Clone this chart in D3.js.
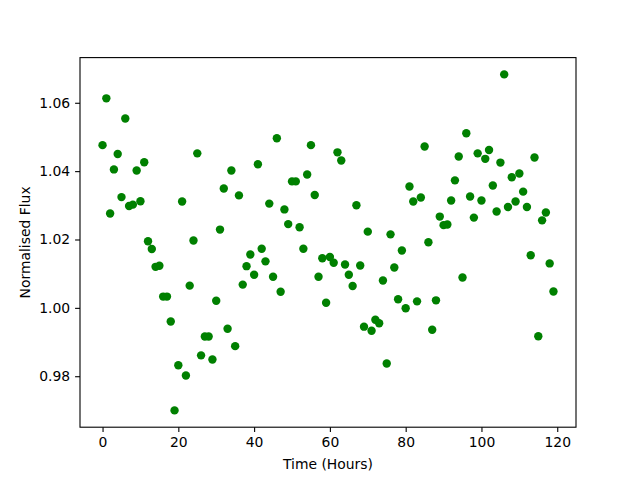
<!DOCTYPE html>
<html>
<head>
<meta charset="utf-8">
<script src="https://cdn.jsdelivr.net/npm/d3@7"></script>
<style>
  body { margin: 0; background: #fff; }
  text { font-family: "DejaVu Sans", sans-serif; fill: #000; }
</style>
</head>
<body>
<div id="chart"></div>
<script>
// hours 0..119, one reading per hour
let hours = d3.range(0, 120);

let flux = [
  1.0476, 1.0613, 1.0276, 1.0405, 1.0450, 1.0324, 1.0554, 1.0298, 1.0302, 1.0402,
  1.0312, 1.0426, 1.0195, 1.0172, 1.0120, 1.0123, 1.0033, 1.0033, 0.9960, 0.9700,
  0.9832, 1.0311, 0.9802, 1.0065, 1.0197, 1.0452, 0.9861, 0.9916, 0.9916, 0.9849,
  1.0021, 1.0229, 1.0349, 0.9939, 1.0402, 0.9888, 1.0329, 1.0068, 1.0122, 1.0156,
  1.0097, 1.0420, 1.0173, 1.0136, 1.0305, 1.0091, 1.0496, 1.0047, 1.0288, 1.0245,
  1.0370, 1.0370, 1.0236, 1.0173, 1.0390, 1.0476, 1.0330, 1.0091, 1.0145, 1.0015,
  1.0149, 1.0132, 1.0455, 1.0431, 1.0127, 1.0097, 1.0064, 1.0300, 1.0124, 0.9945,
  1.0223, 0.9933, 0.9965, 0.9955, 1.0080, 0.9837, 1.0215, 1.0118, 1.0025, 1.0168,
  0.9999, 1.0355, 1.0311, 1.0019, 1.0323, 1.0472, 1.0192, 0.9936, 1.0022, 1.0267,
  1.0242, 1.0244, 1.0314, 1.0373, 1.0443, 1.0089, 1.0511, 1.0326, 1.0264, 1.0452,
  1.0314, 1.0436, 1.0462, 1.0358, 1.0282, 1.0425, 1.0683, 1.0295, 1.0382, 1.0311,
  1.0393, 1.0340, 1.0295, 1.0154, 1.0440, 0.9917, 1.0256, 1.0279, 1.0130, 1.0048
];

let xTicks = [0, 20, 40, 60, 80, 100, 120];
let yTicks = [0.98, 1.00, 1.02, 1.04, 1.06];

let margin = {top: 57.6, right: 64, bottom: 52.8, left: 80},
    width = 640 - margin.left - margin.right,
    height = 480 - margin.top - margin.bottom;

let svg = d3.select("#chart")
    .append("svg")
    .attr("width", 640)
    .attr("height", 480);

let canvas = svg.append("g")
    .attr("transform", "translate(" + margin.left + "," + margin.top + ")");

// matplotlib style 5% margins
function padded(ext) {
    let p = (ext[1] - ext[0]) * 0.05;
    return [ext[0] - p, ext[1] + p];
}

let x = d3.scaleLinear()
    .domain(padded(d3.extent(hours)))
    .range([0, width]);

let y = d3.scaleLinear()
    .domain(padded(d3.extent(flux)))
    .range([height, 0]);

let xAxis = d3.axisBottom(x)
    .tickValues(xTicks)
    .tickSize(4.9)
    .tickPadding(4.9)
    .tickSizeOuter(0)
    .tickFormat(d3.format("d"));

let yAxis = d3.axisLeft(y)
    .tickValues(yTicks)
    .tickSize(4.9)
    .tickPadding(4.9)
    .tickSizeOuter(0)
    .tickFormat(d3.format(".2f"));

canvas.selectAll(".pt")
    .data(hours)
    .enter().append("circle")
      .attr("class", "pt")
      .attr("cx", function(d) { return x(d); })
      .attr("cy", function(d, i) { return y(flux[i]); })
      .attr("r", 4.2)
      .style("fill", "#008000");

let gx = canvas.append("g")
    .attr("transform", "translate(0," + height + ")")
    .call(xAxis);

let gy = canvas.append("g")
    .call(yAxis);

[gx, gy].forEach(function(g) {
    g.select(".domain").remove();
    g.selectAll("line").attr("stroke", "#000").attr("stroke-width", 1.1);
    g.selectAll("text").style("font-size", "13.9px").attr("fill", "#000");
});

// frame
canvas.append("rect")
    .attr("width", width)
    .attr("height", height)
    .attr("fill", "none")
    .attr("stroke", "#000")
    .attr("stroke-width", 1.1);

canvas.append("text")
    .attr("x", width / 2)
    .attr("y", height + 42)
    .attr("text-anchor", "middle")
    .style("font-size", "13.9px")
    .text("Time (Hours)");

canvas.append("text")
    .attr("transform", "translate(" + (-50) + "," + (height / 2) + ") rotate(-90)")
    .attr("text-anchor", "middle")
    .style("font-size", "13.9px")
    .text("Normalised Flux");
</script>
</body>
</html>
